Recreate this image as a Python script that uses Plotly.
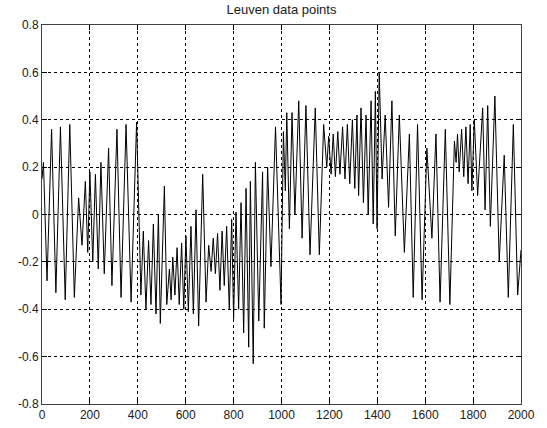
import plotly.graph_objects as go

# Turning points of the signal (sample index, value)
sample_idx = [0, 6, 21, 40, 58, 77, 97, 116, 135, 153, 167, 181, 191, 200, 212, 223, 235, 246, 260, 278, 292, 313, 330, 351, 372, 395,
              413, 423, 434, 445, 455, 465, 476, 486, 494, 511, 521, 532, 539, 546, 555, 564, 573, 583, 592, 601, 611, 622, 632, 643, 654,
              671, 685, 696, 706, 715, 724, 733, 743, 752, 761, 771, 782, 792, 800, 810, 821, 831, 842, 852, 863, 870, 882, 891, 905,
              921, 928, 942, 956, 975, 998, 1008, 1016, 1022, 1033, 1044, 1056, 1072, 1086, 1102, 1119, 1141, 1158, 1176, 1189,
              1197, 1207, 1216, 1225, 1235, 1244, 1255, 1265, 1275, 1285, 1296, 1306, 1315, 1322, 1332, 1342, 1353, 1362, 1374,
              1383, 1392, 1399, 1408, 1420, 1433, 1447, 1461, 1475, 1492, 1513, 1534, 1550, 1568, 1587, 1607, 1628, 1645, 1662,
              1684, 1703, 1722, 1729, 1735, 1742, 1752, 1761, 1770, 1779, 1788, 1795, 1805, 1819, 1840, 1850, 1861, 1872, 1891,
              1909, 1930, 1947, 1968, 1986, 2000]
values = [0.15, 0.22, -0.28, 0.36, -0.33, 0.37, -0.36, 0.38, -0.35, 0.07, -0.13, 0.14, -0.16, 0.18, -0.20, 0.17, -0.23, 0.22, -0.25, 0.28, -0.30, 0.36, -0.35, 0.38, -0.37, 0.39,
          -0.34, -0.07, -0.40, -0.11, -0.38, -0.04, -0.42, 0.00, -0.46, 0.12, -0.38, -0.23, -0.36, -0.18, -0.34, -0.14, -0.38, -0.12, -0.40, -0.09, -0.41, -0.05, -0.42, 0.02, -0.47,
          0.17, -0.37, -0.13, -0.24, -0.10, -0.25, -0.08, -0.32, -0.07, -0.30, -0.05, -0.40, -0.02, -0.44, 0.01, -0.40, 0.05, -0.50, 0.11, -0.56, 0.14, -0.63, 0.22, -0.45,
          0.18, -0.48, 0.20, -0.22, 0.37, -0.38, 0.35, 0.10, 0.43, -0.06, 0.43, 0.00, 0.48, -0.10, 0.46, -0.17, 0.45, -0.17, 0.38, 0.20,
          0.33, 0.17, 0.34, 0.16, 0.35, 0.17, 0.37, 0.15, 0.38, 0.13, 0.40, 0.11, 0.42, 0.08, 0.45, 0.05, 0.42, 0.00, 0.48,
          -0.04, 0.52, -0.06, 0.60, 0.15, 0.42, 0.03, 0.48, -0.09, 0.42, -0.16, 0.34, -0.35, 0.38, -0.36, 0.28, -0.10, 0.34, -0.37,
          0.36, -0.38, 0.31, 0.22, 0.34, 0.18, 0.36, 0.16, 0.37, 0.13, 0.38, 0.10, 0.40, 0.08, 0.45, 0.02, 0.46, -0.05, 0.50,
          -0.20, 0.25, -0.35, 0.38, -0.34, -0.15]

x_ticks = [0, 200, 400, 600, 800, 1000, 1200, 1400, 1600, 1800, 2000]
y_ticks = [-0.8, -0.6, -0.4, -0.2, 0, 0.2, 0.4, 0.6, 0.8]
y_tick_text = ["-0.8", "-0.6", "-0.4", "-0.2", "0", "0.2", "0.4", "0.6", "0.8"]

FONT = "Liberation Sans, Arial, sans-serif"

fig = go.Figure()
fig.add_trace(go.Scatter(x=sample_idx, y=values, mode="lines",
                         line=dict(color="black", width=1), showlegend=False))

axis_common = dict(showline=True, linecolor="#404040", linewidth=1, mirror="ticks",
                   ticks="inside", ticklen=5, tickcolor="black",
                   showgrid=True, gridcolor="black", gridwidth=1, griddash="3px,3px",
                   zeroline=False, automargin=False,
                   tickfont=dict(family=FONT, size=12, color="#202020"))

fig.update_layout(
    width=547, height=428,
    margin=dict(l=42, r=26, t=25, b=24),
    paper_bgcolor="white", plot_bgcolor="white",
    title=dict(text="Leuven data points", x=(42 + 521) / 2 / 547, xref="container", xanchor="center",
               yref="container", y=1 - 9.5 / 428, yanchor="middle",
               font=dict(family=FONT, size=13, color="#202020")),
    xaxis=dict(range=[0, 2000], tickvals=x_ticks, ticktext=[str(v) for v in x_ticks], **axis_common),
    yaxis=dict(range=[-0.8, 0.8], tickvals=y_ticks, ticktext=y_tick_text, **axis_common),
)

fig.write_html("out.html", config={"displayModeBar": False},
               post_script="document.body.style.margin='0';")
